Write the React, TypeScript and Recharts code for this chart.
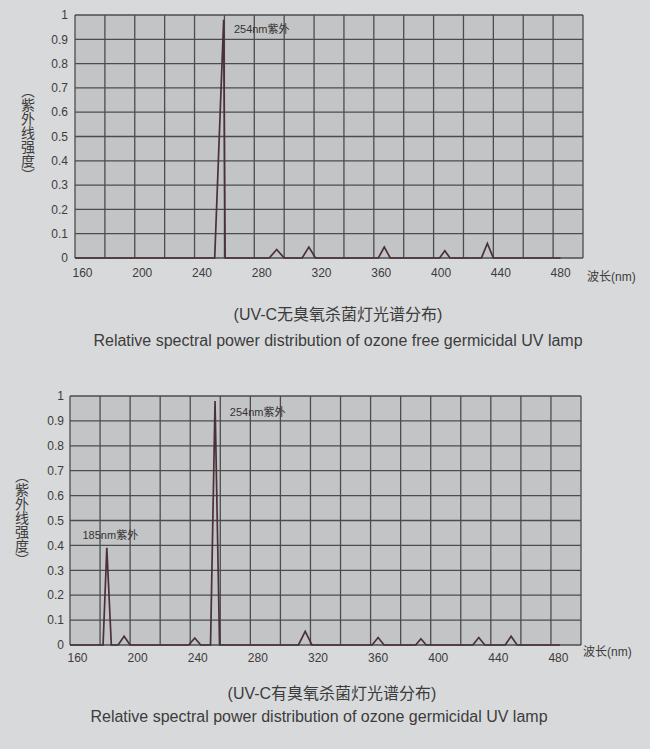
import React from "react";
import {
  LineChart,
  Line,
  XAxis,
  YAxis,
  CartesianGrid,
  ReferenceDot,
} from "recharts";

// wavelength ticks (nm) and grid columns
const xTicks = [160, 200, 240, 280, 320, 360, 400, 440, 480];
const gridNm = [155, 175, 195, 215, 235, 255, 275, 295, 315, 335, 355, 375, 395, 415, 435, 455, 475, 495];
const yTicks = [0, 0.1, 0.2, 0.3, 0.4, 0.5, 0.6, 0.7, 0.8, 0.9, 1];

// ozone free lamp
const ozoneFreeNm = [155, 248.5, 254.5, 255.5, 285, 290, 295, 307, 311.5, 316, 358, 362, 366, 399, 402.5, 406, 427, 431, 435, 480];
const ozoneFreeRel = [0, 0, 0.98, 0, 0, 0.035, 0, 0, 0.045, 0, 0, 0.045, 0, 0, 0.03, 0, 0, 0.06, 0, 0];

// ozone lamp
const ozoneNm = [155, 177, 179.5, 182.5, 187, 191, 195, 234, 238, 242, 248.5, 251.5, 254.5, 307, 311.5, 316, 356, 360, 364, 385, 388.5, 392, 423, 427, 431, 444.5, 448.5, 452.5, 481];
const ozoneRel = [0, 0, 0.39, 0, 0, 0.035, 0, 0, 0.028, 0, 0, 0.98, 0, 0, 0.055, 0, 0, 0.03, 0, 0, 0.025, 0, 0, 0.03, 0, 0, 0.035, 0, 0];

const zip = (xs: number[], ys: number[]) => xs.map((nm, i) => ({ nm, v: ys[i] }));

const BG = "#d8d9db";
const PLOT = "#c3c4c6";
const GRID = "#4c4c4c";
const TRACE = "#4a3038";
const TEXT = "#3c3c3c";
const FONT = "'Liberation Sans', Arial, 'Noto Sans CJK SC', sans-serif";

const fmtY = (v: number) => (v === 0 ? "0" : v === 1 ? "1" : v.toFixed(1));

function xTitle(dx: number, dy: number) {
  return (props: any) => {
    const vb = props.viewBox;
    return (
      <text x={vb.x + vb.width + dx} y={vb.y + dy} dominantBaseline="central" fontSize={12} fill={TEXT}>
        波长(nm)
      </text>
    );
  };
}

interface Note {
  x: number;
  y: number;
  text: string;
}

interface SpectrumProps {
  data: { nm: number; v: number }[];
  notes: Note[];
  height: number;
  left: number;
  right: number;
  tickMargin: number;
  yTickMargin: number;
  unitDx: number;
  unitDy: number;
}

function Spectrum(p: SpectrumProps) {
  return (
    <LineChart width={650} height={p.height} data={p.data} margin={{ top: 15, right: p.right, left: 0, bottom: 0 }}>
      <CartesianGrid
        fill={PLOT}
        fillOpacity={1}
        stroke={GRID}
        strokeWidth={1.3}
        verticalValues={gridNm}
        horizontalValues={yTicks}
      />
      <XAxis
        dataKey="nm"
        type="number"
        domain={[155, 495]}
        ticks={xTicks}
        allowDataOverflow
        axisLine={false}
        tickLine={false}
        tickMargin={p.tickMargin}
        height={32}
        tick={{ fontSize: 12, fill: TEXT }}
        label={xTitle(p.unitDx, p.unitDy)}
      />
      <YAxis
        type="number"
        domain={[0, 1]}
        ticks={yTicks}
        width={p.left}
        axisLine={false}
        tickLine={false}
        tickMargin={p.yTickMargin}
        tickFormatter={fmtY}
        tick={{ fontSize: 12, fill: TEXT }}
      />
      <Line
        type="linear"
        dataKey="v"
        stroke={TRACE}
        strokeWidth={1.7}
        dot={false}
        activeDot={false}
        isAnimationActive={false}
      />
      {p.notes.map((n) => (
        <ReferenceDot
          key={n.text + n.x}
          x={n.x}
          y={n.y}
          r={0}
          fill="none"
          stroke="none"
          label={{ value: n.text, position: "right", offset: 5, fontSize: 11, fill: "#333" }}
        />
      ))}
    </LineChart>
  );
}

function Caption({ cx, cy, size, children }: { cx: number; cy: number; size: number; children: React.ReactNode }) {
  return (
    <div
      style={{
        position: "absolute",
        left: cx - 320,
        width: 640,
        top: cy - 11,
        lineHeight: "22px",
        textAlign: "center",
        fontSize: size,
        color: TEXT,
        whiteSpace: "nowrap",
      }}
    >
      {children}
    </div>
  );
}

function YTitle({ cx, cy }: { cx: number; cy: number }) {
  return (
    <div
      style={{
        position: "absolute",
        left: cx,
        top: cy,
        transform: "translate(-50%, -50%)",
        writingMode: "vertical-rl",
        fontSize: 14,
        lineHeight: "16px",
        letterSpacing: "0px",
        color: TEXT,
        fontFamily: "'Noto Sans CJK SC', sans-serif",
        whiteSpace: "nowrap",
      }}
    >
      （紫外线强度）
    </div>
  );
}

export default function App() {
  return (
    <div style={{ position: "absolute", left: 0, top: 0, width: 650, height: 749, background: BG, fontFamily: FONT, overflow: "hidden" }}>
      <div style={{ position: "absolute", left: 0, top: 0 }}>
        <Spectrum
          data={zip(ozoneFreeNm, ozoneFreeRel)}
          notes={[{ x: 258, y: 0.94, text: "254nm紫外" }]}
          height={290}
          left={75}
          right={67}
          tickMargin={4}
          yTickMargin={1}
          unitDx={4}
          unitDy={19}
        />
      </div>
      <div style={{ position: "absolute", left: 0, top: 381 }}>
        <Spectrum
          data={zip(ozoneNm, ozoneRel)}
          notes={[
            { x: 258, y: 0.936, text: "254nm紫外" },
            { x: 160, y: 0.44, text: "185nm紫外" },
          ]}
          height={296}
          left={70}
          right={69}
          tickMargin={2}
          yTickMargin={0}
          unitDx={2}
          unitDy={7}
        />
      </div>
      <YTitle cx={28} cy={133} />
      <YTitle cx={22} cy={518} />
      <Caption cx={338} cy={315} size={16}>(UV-C无臭氧杀菌灯光谱分布)</Caption>
      <Caption cx={338} cy={341} size={16}>Relative spectral power distribution of ozone free germicidal UV lamp</Caption>
      <Caption cx={332} cy={694} size={16}>(UV-C有臭氧杀菌灯光谱分布)</Caption>
      <Caption cx={319} cy={717} size={16}>Relative spectral power distribution of ozone germicidal UV lamp</Caption>
    </div>
  );
}
